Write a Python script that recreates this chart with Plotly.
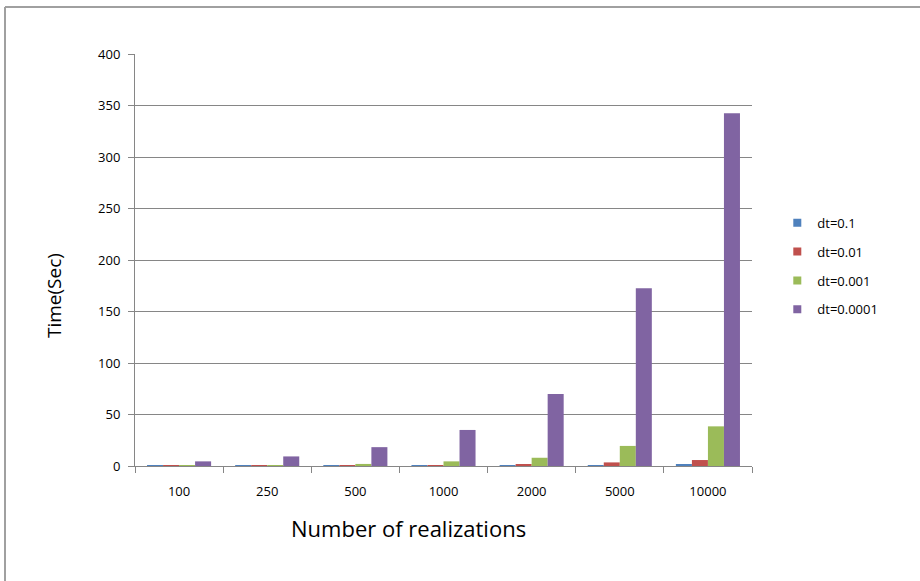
import plotly.graph_objects as go

realizations = ["100", "250", "500", "1000", "2000", "5000", "10000"]
dt_01 = [0.02, 0.04, 0.08, 0.15, 0.3, 0.8, 1.5]
dt_001 = [0.1, 0.2, 0.4, 0.8, 1.8, 3.5, 5.8]
dt_0001 = [0.5, 0.9, 2.0, 4.5, 8.0, 19.5, 38.5]
dt_00001 = [4.5, 9.3, 18.3, 35.0, 70.0, 172.5, 342.5]

series = [
    ("dt=0.1", dt_01, "#4F81BD"),
    ("dt=0.01", dt_001, "#C0504D"),
    ("dt=0.001", dt_0001, "#9BBB59"),
    ("dt=0.0001", dt_00001, "#8064A2"),
]

font = "Open Sans, Liberation Sans, sans-serif"

fig = go.Figure()
for name, vals, color in series:
    fig.add_trace(go.Bar(x=realizations, y=vals, name=name, marker_color=color,
                         marker_line_width=0, showlegend=False))
# small square legend keys, like the original
for name, vals, color in series:
    fig.add_trace(go.Scatter(x=[None], y=[None], mode="markers", name=name,
                             legendgroup=name,
                             marker=dict(symbol="square", size=8, color=color)))

fig.update_layout(
    width=920, height=581,
    margin=dict(l=135, r=168, t=54, b=115),
    plot_bgcolor="white", paper_bgcolor="white",
    barmode="group", bargap=0.273, bargroupgap=0,
    font=dict(family=font, size=13, color="#000000"),
    legend=dict(x=1.041, y=0.485, yanchor="middle", xanchor="left",
                font=dict(size=13), itemwidth=30, tracegroupgap=9,
                bgcolor="rgba(0,0,0,0)"),
    showlegend=True,
)

fig.update_xaxes(
    type="category", showline=True, linecolor="#868686", linewidth=1,
    ticks="outside", tickson="boundaries", ticklen=6, tickcolor="#868686",
    ticklabelstandoff=13, showgrid=False,
)
fig.update_yaxes(
    range=[0, 400], dtick=50, showline=True, linecolor="#868686", linewidth=1,
    ticks="outside", ticklen=6, tickcolor="#868686", ticklabelstandoff=5,
    showgrid=True, gridcolor="#868686", gridwidth=1, zeroline=False,
)

# axis titles (placed off-centre as in the original)
fig.add_annotation(text="Number of realizations", xref="paper", yref="paper",
                   x=0.4425, y=-0.150, xanchor="center", yanchor="middle",
                   showarrow=False, font=dict(size=22))
fig.add_annotation(text="Time(Sec)", xref="paper", yref="paper",
                   x=-0.131, y=0.413, xanchor="center", yanchor="middle",
                   textangle=-90, showarrow=False, font=dict(size=19))

# chart frame (left and top edges)
fig.add_shape(type="line", xref="paper", yref="paper",
              x0=-0.2107, x1=-0.2107, y0=1.114, y1=-0.4,
              line=dict(color="#A0A0A0", width=2))
fig.add_shape(type="line", xref="paper", yref="paper",
              x0=-0.2107, x1=1.3, y0=1.114, y1=1.114,
              line=dict(color="#A0A0A0", width=2))

fig.write_html("out.html", config={"displayModeBar": False},
               post_script="document.body.style.margin='0';")
